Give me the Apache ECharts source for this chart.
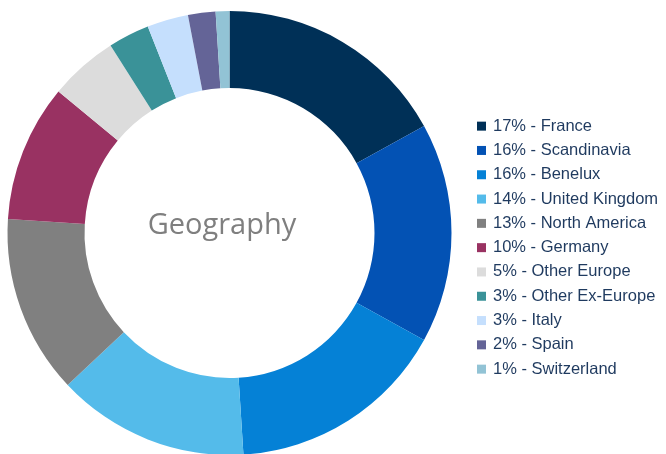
<!DOCTYPE html>
<html>
<head>
<meta charset="utf-8">
<script src="https://cdn.jsdelivr.net/npm/echarts@6/dist/echarts.min.js"></script>
<style>
  html, body { margin: 0; padding: 0; background: #fff; }
  #chart { width: 666px; height: 454px; }
</style>
</head>
<body>
<div id="chart"></div>
<script>
// geography split, percent
const regions = ["France", "Scandinavia", "Benelux", "United Kingdom", "North America", "Germany",
  "Other Europe", "Other Ex-Europe", "Italy", "Spain", "Switzerland"];
const shares = [17, 16, 16, 14, 13, 10, 5, 3, 3, 2, 1];
const colors = ["#003057", "#0352b4", "#0581d6", "#54bbea", "#808080", "#993262",
  "#dcdcdc", "#3a9298", "#c5dffd", "#646497", "#92c3d5"];

const chart = echarts.init(document.getElementById("chart"));

const option = {
  animation: false,
  color: colors,
  graphic: [{
    type: "text",
    style: {
      x: 222,
      y: 226,
      text: "Geography",
      fill: "#7f7f7f",
      font: "29px 'Open Sans'",
      textAlign: "center",
      textVerticalAlign: "middle"
    }
  }],
  legend: {
    orient: "vertical",
    left: 472,
    top: 109,
    itemWidth: 9,
    itemHeight: 9,
    itemGap: 0,
    icon: "rect",
    data: regions,
    formatter: (name) => shares[regions.indexOf(name)] + "% - " + name,
    textStyle: {
      color: "#1f3a5f",
      fontSize: 16.5,
      lineHeight: 24.3,
      fontFamily: "Liberation Sans, Arial, sans-serif",
      padding: [0, 0, 0, 2]
    }
  },
  series: [{
    type: "pie",
    center: [229.5, 233],
    radius: [145, 222],
    startAngle: 90,
    clockwise: true,
    label: { show: false },
    labelLine: { show: false },
    itemStyle: { borderWidth: 0 },
    emphasis: { disabled: true },
    data: regions.map((r, i) => ({ name: r, value: shares[i] }))
  }]
};

chart.setOption(option);
</script>
</body>
</html>
